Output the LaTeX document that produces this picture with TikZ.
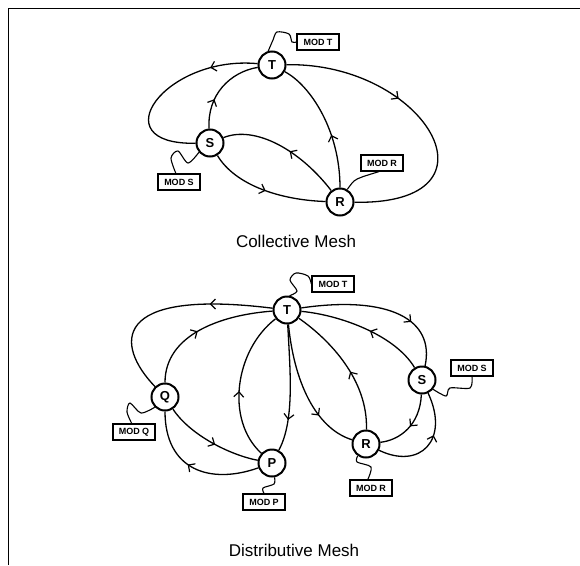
\documentclass[tikz,border=0pt]{standalone}
\usepackage{fontspec}
\setmainfont{Liberation Sans}
\usetikzlibrary{arrows.meta,decorations.markings}

\begin{document}
\begin{tikzpicture}[x=1pt, y=-1pt,
    site/.style={circle, draw, line width=2pt, minimum size=27pt, inner sep=0pt,
        font=\fontsize{13}{13}\selectfont\bfseries},
    modbox/.style={draw, line width=1.3pt, minimum width=42pt, minimum height=16pt,
        inner sep=1pt, font=\fontsize{9}{9}\selectfont\bfseries},
    link/.style={line width=1.3pt},
    wire/.style={line width=1.1pt},
    midarrow/.style={postaction={decorate, decoration={markings,
        mark=at position #1 with {\arrow{Straight Barb[length=5pt,width=10pt,line width=1.2pt]}}}}},
    midarrow/.default=0.5]

    \useasboundingbox (0,0) rectangle (580,565);

    % Frame
    \draw[line width=1pt] (8,565) -- (8,8) -- (580,8);

    % Collective mesh: sites
    \node[site] (T) at (272,65) {T};
    \node[site] (S) at (210,143) {S};
    \node[site] (R) at (340,202) {R};

    % Collective mesh: links
    \draw[link, midarrow=0.25] (T) .. controls (165,55) and (100,145) .. (S);
    \draw[link, midarrow=0.35] (S) .. controls (207,95) and (230,72) .. (T);
    \draw[link, midarrow=0.4] (T) .. controls (425,62) and (510,205) .. (R);
    \draw[link, midarrow=0.4] (R) .. controls (340,130) and (310,85) .. (T);
    \draw[link, midarrow=0.45] (R) .. controls (300,150) and (255,125) .. (S);
    \draw[link, midarrow=0.5] (S) .. controls (235,185) and (280,200) .. (R);

    % Collective mesh: modules
    \node[modbox] (modT) at (318,42) {MOD T};
    \node[modbox] (modS) at (179,182) {MOD S};
    \node[modbox] (modR) at (382,163) {MOD R};
    \draw[wire] plot[smooth] coordinates {(T.105) (273,40) (277,32) (289,34) (292,42) (modT.west)};
    \draw[wire] plot[smooth] coordinates {(S.220) (188,163) (178,151) (171,158) (modS.110)};
    \draw[wire] plot[smooth] coordinates {(R.60) (354,181) (362,177) (modR.250)};

    \node[font=\fontsize{17}{17}\selectfont] (capC) at (296,241) {Collective Mesh};

    % Distributive mesh: sites
    \node[site] (T2) at (287,310) {T};
    \node[site] (Q2) at (165,397) {Q};
    \node[site] (P2) at (272,463) {P};
    \node[site] (R2) at (366,444) {R};
    \node[site] (S2) at (422,380) {S};

    % Distributive mesh: links
    \draw[link, midarrow=0.3] (T2) .. controls (110,288) and (115,345) .. (Q2);
    \draw[link, midarrow=0.45] (Q2) .. controls (165,335) and (220,315) .. (T2);
    \draw[link, midarrow=0.55] (Q2) .. controls (190,435) and (230,455) .. (P2);
    \draw[link, midarrow=0.55] (P2) .. controls (210,485) and (165,470) .. (Q2);
    \draw[link, midarrow=0.45] (P2) .. controls (225,420) and (235,350) .. (T2);
    \draw[link, midarrow=0.75] (T2) .. controls (290,370) and (295,420) .. (P2);
    \draw[link, midarrow=0.7] (T2) .. controls (295,390) and (320,430) .. (R2);
    \draw[link, midarrow=0.45] (R2) .. controls (368,380) and (330,340) .. (T2);
    \draw[link, midarrow=0.7] (T2) .. controls (390,295) and (435,320) .. (S2);
    \draw[link, midarrow=0.45] (S2) .. controls (395,335) and (340,315) .. (T2);
    \draw[link, midarrow=0.5] (S2) .. controls (420,425) and (400,440) .. (R2);
    \draw[link, midarrow=0.6] (R2) .. controls (420,470) and (450,440) .. (S2);

    % Distributive mesh: modules
    \node[modbox] (modT2) at (333,284) {MOD T};
    \node[modbox] (modQ) at (134,432) {MOD Q};
    \node[modbox] (modP) at (264,502) {MOD P};
    \node[modbox] (modR2) at (371,488) {MOD R};
    \node[modbox] (modS2) at (472,368) {MOD S};
    \draw[wire] plot[smooth] coordinates {(T2.80) (297,291) (290,280) (296,273) (308,276) (modT2.west)};
    \draw[wire] plot[smooth] coordinates {(Q2.225) (141,413) (130,403) (127,412) (modQ.105)};
    \draw[wire] plot[smooth] coordinates {(P2.-80) (274,484) (263,488) (modP.north)};
    \draw[wire] plot[smooth] coordinates {(R2.235) (357,462) (371,467) (modR2.110)};
    \draw[wire] plot[smooth] coordinates {(S2.-40) (446,396) (450,388) (470,388) (modS2.south)};

    \node[font=\fontsize{17}{17}\selectfont] (capD) at (294,550) {Distributive Mesh};

\end{tikzpicture}
\end{document}
